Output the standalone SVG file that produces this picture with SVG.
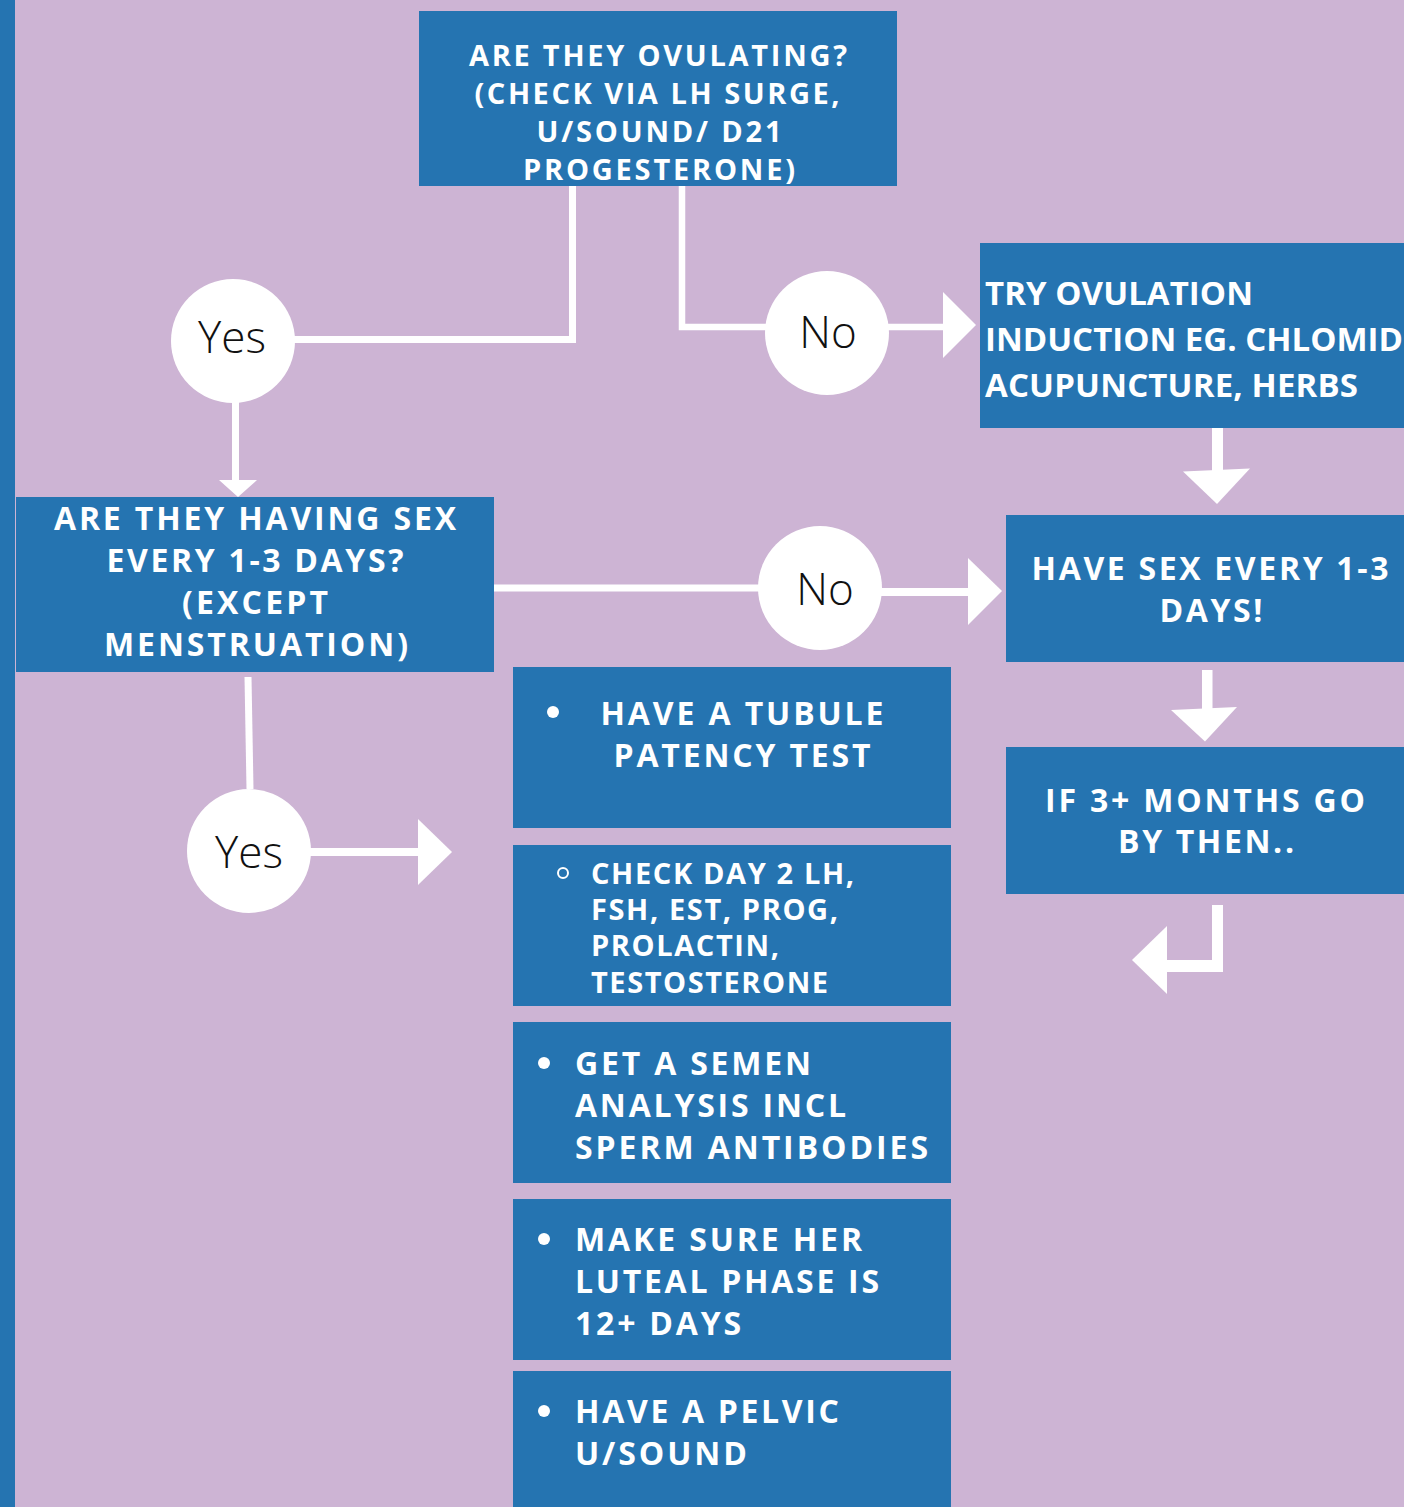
<svg xmlns="http://www.w3.org/2000/svg" width="1404" height="1507" viewBox="0 0 1404 1507">
<style>
.box{fill:#2574B1}
.t{font-family:"Open Sans","Liberation Sans",sans-serif;font-weight:700;fill:#FFFFFF}
.s29{font-size:29px}
.s32{font-size:32px}
.s33{font-size:33px}
.mid{text-anchor:middle}
.c{font-family:"Open Sans","Liberation Sans",sans-serif;font-weight:300;font-size:44px;fill:#111111;text-anchor:middle}
.circ{fill:#FFFFFF}
.ln{stroke:#FFFFFF;fill:none;stroke-linecap:butt;stroke-linejoin:miter}
.ah{fill:#FFFFFF}
</style>
<rect x="0" y="0" width="1404" height="1507" fill="#CDB4D4"/>
<rect x="0" y="0" width="15" height="1507" fill="#2574B1"/>

<g id="connectors">
  <polyline class="ln" stroke-width="7" points="572.5,186 572.5,339.5 294,339.5"/>
  <polyline class="ln" stroke-width="6.5" points="682,186 682,327 766,327"/>
  <line class="ln" stroke-width="6.5" x1="887" y1="327" x2="944" y2="327"/>
  <polygon class="ah" points="943,292 976,325 943,358"/>
  <line class="ln" stroke-width="7" x1="235.5" y1="402" x2="235.5" y2="482"/>
  <polygon class="ah" points="219,480 257,480 238,497"/>
  <line class="ln" stroke-width="7" x1="494" y1="588" x2="759" y2="588"/>
  <line class="ln" stroke-width="8" x1="881" y1="592" x2="970" y2="592"/>
  <polygon class="ah" points="968,558 1002,591 968,625"/>
  <rect class="ah" x="1212" y="427" width="11" height="44"/>
  <polygon class="ah" points="1183,471.5 1250,468.5 1217,504"/>
  <rect class="ah" x="1202" y="670" width="10.5" height="40"/>
  <polygon class="ah" points="1171,710 1237,707 1205,741.5"/>
  <path class="ah" d="M1212,905 H1223 V972 H1166 V960 H1212 Z"/>
  <polygon class="ah" points="1167,926 1132,960 1167,994"/>
  <line class="ln" stroke-width="7" x1="248" y1="677" x2="250" y2="789"/>
  <line class="ln" stroke-width="8" x1="310" y1="852" x2="420" y2="852"/>
  <polygon class="ah" points="418,819 452,852 418,885"/>
</g>

<g id="q-ovulating">
  <rect class="box" x="419" y="11" width="478" height="175"/>
  <text class="t s29 mid" x="658" y="66" textLength="378" lengthAdjust="spacing">ARE THEY OVULATING?</text>
  <text class="t s29 mid" x="657" y="104" textLength="365" lengthAdjust="spacing">(CHECK VIA LH SURGE,</text>
  <text class="t s29 mid" x="659" y="142" textLength="245" lengthAdjust="spacing">U/SOUND/ D21</text>
  <text class="t s29 mid" x="659" y="180" textLength="272" lengthAdjust="spacing">PROGESTERONE)</text>
</g>

<g id="yes-1">
  <circle class="circ" cx="233" cy="341" r="62"/>
  <text class="c" x="232" y="353">Yes</text>
</g>

<g id="no-1">
  <circle class="circ" cx="827" cy="333" r="62"/>
  <text class="c" x="828" y="348">No</text>
</g>

<g id="try-induction">
  <rect class="box" x="980" y="243" width="424" height="185"/>
  <text class="t s33" x="985" y="305" textLength="268" lengthAdjust="spacing">TRY OVULATION</text>
  <text class="t s33" x="985" y="351">INDUCTION EG. CHLOMID</text>
  <text class="t s33" x="985" y="397" textLength="373" lengthAdjust="spacing">ACUPUNCTURE, HERBS</text>
</g>

<g id="q-sex">
  <rect class="box" x="16" y="497" width="478" height="175"/>
  <text class="t s32 mid" x="255" y="530" textLength="402" lengthAdjust="spacing">ARE THEY HAVING SEX</text>
  <text class="t s32 mid" x="255" y="572" textLength="297" lengthAdjust="spacing">EVERY 1-3 DAYS?</text>
  <text class="t s32 mid" x="255" y="614" textLength="146" lengthAdjust="spacing">(EXCEPT</text>
  <text class="t s32 mid" x="256" y="656" textLength="304" lengthAdjust="spacing">MENSTRUATION)</text>
</g>

<g id="no-2">
  <circle class="circ" cx="820" cy="588" r="62"/>
  <text class="c" x="825" y="605">No</text>
</g>

<g id="have-sex">
  <rect class="box" x="1006" y="515" width="398" height="147"/>
  <text class="t s32 mid" x="1210" y="580" textLength="357" lengthAdjust="spacing">HAVE SEX EVERY 1-3</text>
  <text class="t s32 mid" x="1211" y="622" textLength="103" lengthAdjust="spacing">DAYS!</text>
</g>

<g id="three-months">
  <rect class="box" x="1006" y="747" width="398" height="147"/>
  <text class="t s32 mid" x="1205" y="812" textLength="320" lengthAdjust="spacing">IF 3+ MONTHS GO</text>
  <text class="t s32 mid" x="1206" y="853" textLength="176" lengthAdjust="spacing">BY THEN..</text>
</g>

<g id="yes-2">
  <circle class="circ" cx="249" cy="851" r="62"/>
  <text class="c" x="249" y="868">Yes</text>
</g>

<g id="tubule">
  <rect class="box" x="513" y="667" width="438" height="161"/>
  <circle class="circ" cx="553" cy="712" r="6"/>
  <text class="t s32 mid" x="742" y="725" textLength="283" lengthAdjust="spacing">HAVE A TUBULE</text>
  <text class="t s32 mid" x="742" y="767" textLength="257" lengthAdjust="spacing">PATENCY TEST</text>
</g>

<g id="hormones">
  <rect class="box" x="513" y="845" width="438" height="161"/>
  <circle cx="563" cy="873" r="5" fill="none" stroke="#FFFFFF" stroke-width="2"/>
  <text class="t s29" x="591" y="884" textLength="263" lengthAdjust="spacing">CHECK DAY 2 LH,</text>
  <text class="t s29" x="591" y="920" textLength="247" lengthAdjust="spacing">FSH, EST, PROG,</text>
  <text class="t s29" x="591" y="956" textLength="188" lengthAdjust="spacing">PROLACTIN,</text>
  <text class="t s29" x="591" y="993" textLength="237" lengthAdjust="spacing">TESTOSTERONE</text>
</g>

<g id="semen">
  <rect class="box" x="513" y="1022" width="438" height="161"/>
  <circle class="circ" cx="544" cy="1063" r="6"/>
  <text class="t s32" x="575" y="1075" textLength="236" lengthAdjust="spacing">GET A SEMEN</text>
  <text class="t s32" x="575" y="1117" textLength="271" lengthAdjust="spacing">ANALYSIS INCL</text>
  <text class="t s32" x="575" y="1159" textLength="353" lengthAdjust="spacing">SPERM ANTIBODIES</text>
</g>

<g id="luteal">
  <rect class="box" x="513" y="1199" width="438" height="161"/>
  <circle class="circ" cx="544" cy="1239" r="6"/>
  <text class="t s32" x="575" y="1251" textLength="287" lengthAdjust="spacing">MAKE SURE HER</text>
  <text class="t s32" x="575" y="1293" textLength="304" lengthAdjust="spacing">LUTEAL PHASE IS</text>
  <text class="t s32" x="575" y="1335" textLength="166" lengthAdjust="spacing">12+ DAYS</text>
</g>

<g id="pelvic">
  <rect class="box" x="513" y="1371" width="438" height="136"/>
  <circle class="circ" cx="544" cy="1411" r="6"/>
  <text class="t s32" x="575" y="1423" textLength="264" lengthAdjust="spacing">HAVE A PELVIC</text>
  <text class="t s32" x="575" y="1465" textLength="172" lengthAdjust="spacing">U/SOUND</text>
</g>
</svg>
